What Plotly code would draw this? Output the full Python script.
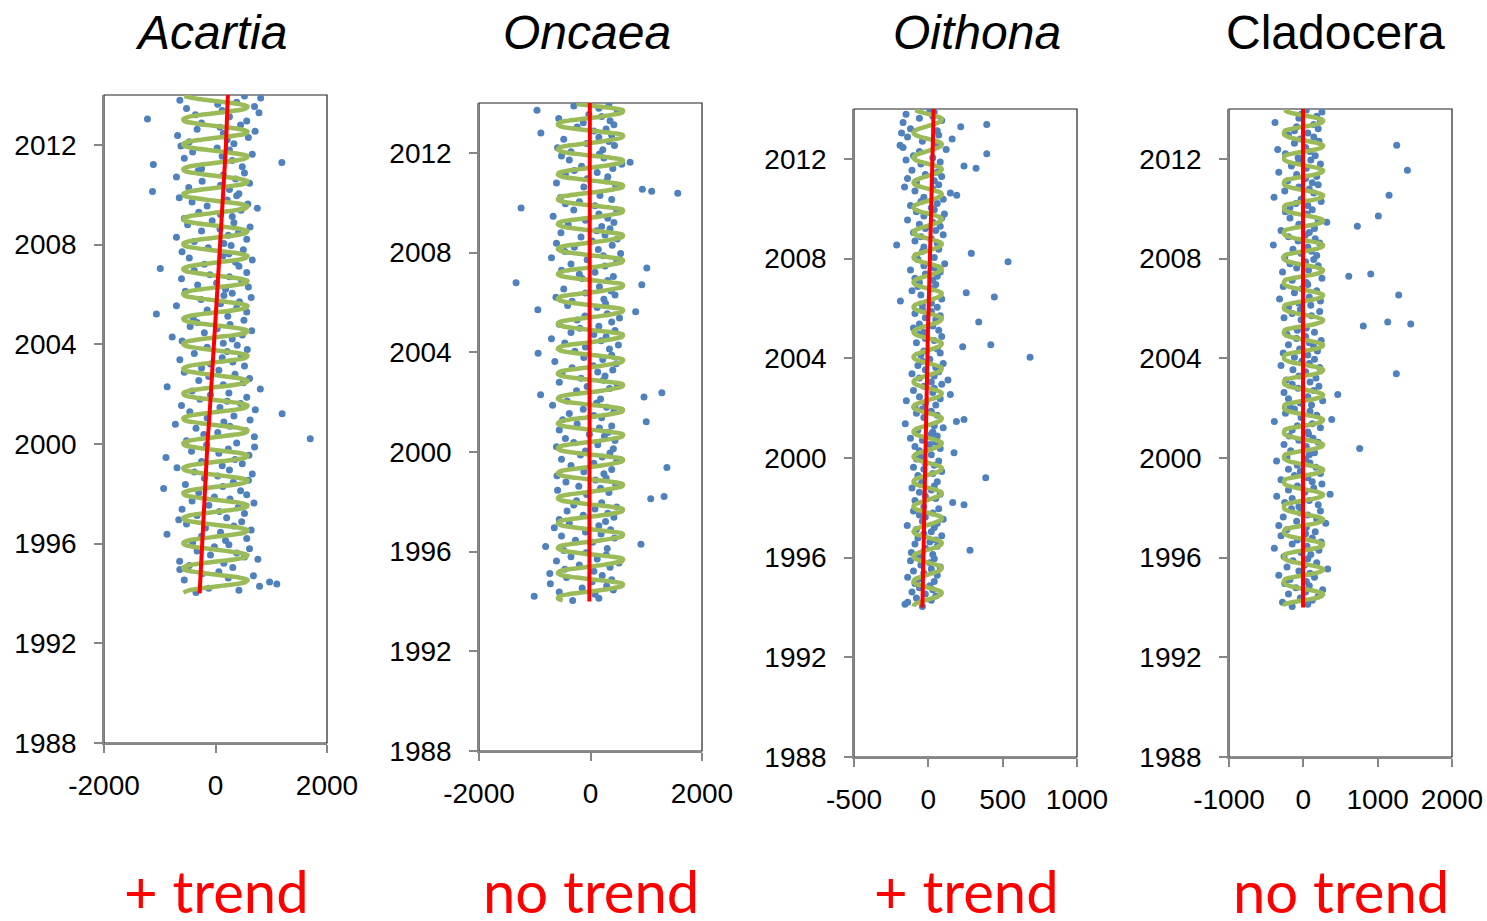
import plotly.graph_objects as go

# ---- time base -------------------------------------------------------------
years = list(range(1994, 2014))
month_offsets = [(m + 0.5) / 12 for m in range(12)]
trend_years = list(range(1994, 2015))

year_ticks = [1988, 1992, 1996, 2000, 2004, 2008, 2012]
year_range = [1988, 2014]

titles = ["Acartia", "Oncaea", "Oithona", "Cladocera"]
title_italic = [True, True, True, False]
verdicts = ["+ trend", "no trend", "+ trend", "no trend"]

# ---- Acartia ---------------------------------------------------------------
acartia_obs = [
    [-350, 420, -120, 790, 1100, 970, -560, 230, 680, -240, 60, -640],
    [310, -470, 150, -643, 760, 520, -90, 380, -330, 610, -20, 240],
    [-410, 180, 560, -250, -870, 90, 640, -180, 330, -520, 470, -660],
    [200, -330, 520, 70, -600, 410, -120, 690, -420, 260, -20, 560],
    [-300, 450, -930, 130, -540, 320, 590, -200, 40, 660, -380, 250],
    [-690, 120, 480, -250, 350, -888, 600, 60, -430, 230, 700, -160],
    [380, -520, 1700, 697, -210, 40, 540, -350, 260, -720, 150, 620],
    [-150, 330, 1195, -460, 714, 80, -610, 450, 210, -280, 560, -90],
    [240, -420, 804, -867, 140, 500, -300, 610, -120, 350, -560, 60],
    [-250, 520, -90, 310, -640, 120, 460, -380, 210, 570, -150, 390],
    [140, -598, 300, -777, 480, -200, 650, 30, -455, 260, -330, 510],
    [-400, 220, -1060, 560, -150, 380, -700, 90, 430, -260, 640, 150],
    [300, -540, 180, 590, -320, 20, 470, -610, 250, -100, 560, -380],
    [-990, 420, -200, 360, 660, -470, 130, 240, -600, 500, -130, 280],
    [150, -380, 560, -700, 230, 410, -250, 80, 620, -500, 330, -60],
    [-560, 300, 90, -300, 460, 750, -150, 580, -420, 210, -650, 380],
    [420, -1130, 250, -480, 90, 610, -240, 360, -700, 140, 520, -310],
    [-250, 480, -1115, 1190, 300, -560, 120, 660, -410, 250, 30, -620],
    [330, -470, 210, 590, -680, 140, 710, -330, 80, 450, -250, 560],
    [-1220, 250, -360, 780, 120, -520, 700, 40, 380, -640, 810, 520],
]
acartia_season = [-575, -480, -250, 60, 360, 540, 575, 450, 180, -130, -400, -560]
acartia_trend = [-285, -262, -240, -222, -195, -172, -145, -112, -82, -45, -15,
                 8, 28, 55, 78, 100, 128, 162, 188, 205, 222]
acartia_xticks = [-2000, 0, 2000]
acartia_xlabels = ["-2000", "0", "2000"]
acartia_xrange = [-2000, 2000]

# ---- Oncaea ----------------------------------------------------------------
oncaea_obs = [
    [-320, 150, -1010, 80, -560, 410, -150, 290, -720, 30, 380, -430],
    [210, -730, 60, -460, 350, -200, 510, -610, 120, -350, 280, -80],
    [-480, 300, -805, 905, 40, -270, 430, -520, 190, -90, 360, -650],
    [150, -380, 270, -560, 420, -130, 310, -420, 80, 470, -300, 200],
    [-250, 1080, 1320, -70, 330, -590, 180, -210, 450, -440, 90, 280],
    [-600, 240, -120, 380, 1370, -350, 60, 470, -520, 210, -180, 350],
    [-90, 410, -610, 130, -300, 440, -450, 250, -20, 320, -560, 160],
    [380, -240, 1000, -500, 200, 60, -380, 420, -130, 290, -680, 110],
    [-420, 180, 960, -895, 1280, -250, 340, -60, 480, -560, 230, -170],
    [260, -510, 130, 400, -330, 50, 460, -640, 220, -120, 380, -940],
    [-280, 340, -90, 500, -460, 190, -700, 280, 60, -350, 440, -190],
    [150, -560, 380, -240, 520, -100, 300, 810, -945, 120, -410, 270],
    [-330, 240, -620, 440, -90, 370, -480, 160, 920, -1335, 310, -150],
    [410, -200, 80, -520, 1010, 260, -350, 470, -60, -700, 230, 540],
    [-460, 140, -290, 390, -610, 30, 480, -170, 260, -530, 110, 350],
    [200, -400, 420, -90, 310, -670, 150, 470, -300, -1245, 80, -450],
    [-200, 380, -540, 170, 1565, 1097, 930, -120, 450, -610, 290, -60],
    [310, -450, 120, -290, 400, -160, 560, 710, -380, 240, -520, 160],
    [-350, 220, -590, 430, -70, 330, -480, 150, 380, -890, 60, 280],
    [-240, 420, -130, 350, -570, 200, -30, 480, -960, 150, -300, 330],
]
oncaea_season = [-500, -585, -560, -390, -90, 200, 420, 570, 580, 400, 80, -250]
oncaea_trend = [-20, -19, -18, -18, -17, -17, -16, -16, -15, -15, -15,
                -14, -14, -14, -13, -13, -13, -12, -12, -12, -12]
oncaea_xticks = [-2000, 0, 2000]
oncaea_xlabels = ["-2000", "0", "2000"]
oncaea_xrange = [-2000, 2000]

# ---- Oithona ---------------------------------------------------------------
oithona_obs = [
    [-40, -157, -139, 20, -80, 50, -20, -110, 30, -60, 10, -90],
    [40, -70, -139, 60, -30, -100, 20, 80, -50, 10, -120, 40],
    [-60, 30, -114, 280, -20, 60, -90, 10, 50, -70, 90, -30],
    [20, -80, 40, -142, 60, -40, 100, -20, -60, 30, -100, 70],
    [-30, 240, 164, -90, 50, -20, 80, -60, 20, -110, 40, -50],
    [60, -40, 386, -70, 30, 90, -30, -100, 40, -20, 70, -80],
    [-50, 20, 173, -60, 80, -90, 10, 50, -40, -120, 60, 20],
    [30, -70, 100, 40, -155, 189, 240, -30, 60, -80, 20, -40],
    [-90, 50, -20, -148, 80, -60, 148, 30, -100, 40, -30, 90],
    [20, 132, -60, 40, -110, 70, -20, 50, -70, 100, -40, 10],
    [684, -50, 80, -30, 60, 231, 420, -80, 40, -20, 90, -60],
    [-30, 70, -100, 30, -60, 339, 50, -20, 80, -90, 20, -40],
    [60, -40, 20, -188, 90, 444, -50, 255, -110, 30, -70, 50],
    [-60, 30, -90, 60, -20, 80, -120, 40, -30, 110, 536, -70],
    [40, -80, 289, -40, 70, -30, -213, 60, -90, 20, -50, 100],
    [-100, 50, -20, 80, -60, 30, -140, 90, -30, 108, -80, 40],
    [20, -120, 60, -50, 100, -30, 191, 148, -90, 30, -160, 70],
    [-80, 40, -140, 90, -20, 60, -110, 321, 240, -50, 80, -150],
    [30, -100, 393, -60, 120, -170, -190, 50, -40, 160, -140, 70],
    [-180, 60, -120, 218, 393, -170, 90, -60, 30, -150, 40, 10],
]
oithona_season = [-100, -92, -60, -15, 30, 68, 88, 88, 55, 5, -50, -88]
oithona_trend = [-40, -37, -34, -32, -30, -27, -24, -20, -16, -12, -8,
                 -3, 2, 7, 12, 16, 21, 25, 29, 32, 35]
oithona_xticks = [-500, 0, 500, 1000]
oithona_xlabels = ["-500", "0", "500", "1000"]
oithona_xrange = [-500, 1000]

# ---- Cladocera -------------------------------------------------------------
cladocera_obs = [
    [-150, 60, -280, 120, -40, 200, -200, 30, 260, -100, 80, -250],
    [40, -180, 150, -330, 90, -60, 328, -220, 20, 180, -140, 60],
    [-260, 100, -30, 210, -390, 50, -150, 240, -80, 120, -300, 30],
    [160, -220, 40, -330, 301, -90, 180, -270, 60, -40, 230, -160],
    [-60, 200, -250, 80, -150, -358, 360, 20, -200, 140, -80, 250],
    [120, -300, 60, -120, 230, -40, -200, 170, -80, 90, -360, 30],
    [-220, 80, 150, -170, 758, 40, -260, 200, -60, 130, -190, 70],
    [60, -150, 230, -80, 120, -390, 382, -30, 180, -240, 90, -120],
    [-180, 110, -40, 260, -200, 60, 463, -260, 140, -70, 210, -150],
    [90, -230, 170, -60, 1251, 30, -140, 220, -300, 80, -20, 150],
    [-120, 60, -270, 190, -50, 140, -200, 80, 240, -90, 30, -220],
    [150, -80, 40, 807, 1445, 1135, -30, -260, 110, -150, 220, -40],
    [-200, 100, -60, 230, -320, 80, 1283, -120, 180, -20, -270, 60],
    [40, -150, 250, 611, 907, -280, 70, -90, 200, -180, 30, 140],
    [-250, 180, -30, 110, -140, 60, -404, 220, -70, 160, -200, 30],
    [80, -300, 150, 727, -60, 315, 200, -180, 1009, 50, -240, 120],
    [-180, 60, -100, 240, -30, -394, 1153, 140, -250, 80, -60, 200],
    [120, -210, 30, 180, -90, -330, 1400, 40, -160, 230, -60, 100],
    [-70, 160, -240, 90, -345, 30, 1256, -120, 210, -40, 140, -200],
    [60, -120, 200, -90, 140, -381, 230, -60, 180, -30, 250, 40],
]
cladocera_season = [-260, -250, -150, 10, 160, 250, 265, 200, 70, -80, -200, -255]
cladocera_trend = [-4, -4, -4, -4, -4, -4, -4, -4, -4, -4, -4,
                   -4, -4, -4, -4, -4, -4, -4, -4, -4, -4]
cladocera_xticks = [-1000, 0, 1000, 2000]
cladocera_xlabels = ["-1000", "0", "1000", "2000"]
cladocera_xrange = [-1000, 2000]

# ---- styling ---------------------------------------------------------------
W, H = 1487, 921
DOT = "#4F81BD"
SEASON = "#9BBB59"
TREND = "#FF0000"
AXIS_GREY = "#868686"
TICK_FONT = dict(family="Liberation Sans, Arial, sans-serif", size=28, color="black")

# plot-area boxes in pixels: (left, right, top, bottom)
boxes = [(104, 327, 95, 743), (479, 702, 103, 751),
         (854, 1077, 109, 757), (1229, 1452, 109, 757)]
title_centers = [211, 587, 977, 1335]
verdict_centers = [216, 591, 966, 1341]

panels = [
    (acartia_obs, acartia_season, acartia_trend, acartia_xticks, acartia_xlabels, acartia_xrange),
    (oncaea_obs, oncaea_season, oncaea_trend, oncaea_xticks, oncaea_xlabels, oncaea_xrange),
    (oithona_obs, oithona_season, oithona_trend, oithona_xticks, oithona_xlabels, oithona_xrange),
    (cladocera_obs, cladocera_season, cladocera_trend, cladocera_xticks, cladocera_xlabels, cladocera_xrange),
]

fig = go.Figure()
layout = dict(
    width=W, height=H, margin=dict(l=0, r=0, t=0, b=0, pad=0, autoexpand=False),
    paper_bgcolor="white", plot_bgcolor="white", showlegend=False,
)
shapes, annotations = [], []

for i, (obs, season, trend, xt, xl, xr) in enumerate(panels):
    n = "" if i == 0 else str(i + 1)
    xa, ya = "x" + n, "y" + n
    left, right, top, bottom = boxes[i]

    t_month, v_obs, v_season = [], [], []
    for yi, yr in enumerate(years):
        for m in range(12):
            t_month.append(yr + month_offsets[m])
            v_obs.append(obs[yi][m])
            v_season.append(season[m])

    fig.add_trace(go.Scatter(
        x=v_obs, y=t_month, mode="markers", xaxis=xa, yaxis=ya,
        marker=dict(color=DOT, size=7, line=dict(width=0)),
        hoverinfo="skip"))
    fig.add_trace(go.Scatter(
        x=v_season, y=t_month, mode="lines", xaxis=xa, yaxis=ya,
        line=dict(color=SEASON, width=4.5, shape="spline", smoothing=1.0),
        hoverinfo="skip"))
    fig.add_trace(go.Scatter(
        x=trend, y=trend_years, mode="lines", xaxis=xa, yaxis=ya,
        line=dict(color=TREND, width=4),
        hoverinfo="skip"))

    layout["xaxis" + n] = dict(
        domain=[left / W, right / W], anchor=ya, range=xr, automargin=False,
        tickvals=xt, ticktext=xl, ticks="outside", ticklen=8,
        tickcolor=AXIS_GREY, tickwidth=1.5, showline=True,
        linecolor=AXIS_GREY, linewidth=1.5, showgrid=False, zeroline=False,
        tickfont=TICK_FONT, ticklabelstandoff=9, fixedrange=True)
    layout["yaxis" + n] = dict(
        domain=[1 - bottom / H, 1 - top / H], anchor=xa, range=year_range,
        automargin=False, tickvals=year_ticks,
        ticktext=[str(v) for v in year_ticks],
        ticks="outside", ticklen=8, tickcolor=AXIS_GREY, tickwidth=1.5,
        showline=True, linecolor=AXIS_GREY, linewidth=1.5, showgrid=False,
        zeroline=False, tickfont=TICK_FONT, ticklabelstandoff=12, fixedrange=True)

    # dark frame along top and right of each plot area
    shapes.append(dict(type="rect", xref=xa + " domain", yref=ya + " domain",
                       x0=0, x1=1, y0=0, y1=1, layer="below",
                       line=dict(color="#222222", width=1.2)))

    name = titles[i]
    annotations.append(dict(
        text=f"<i>{name}</i>" if title_italic[i] else name,
        x=title_centers[i] / W, y=1 - 32 / H, xref="paper", yref="paper",
        xanchor="center", yanchor="middle", showarrow=False,
        font=dict(family="Liberation Sans, Arial, sans-serif", size=48, color="black")))
    annotations.append(dict(
        text=verdicts[i], x=verdict_centers[i] / W, y=1 - 890 / H,
        xref="paper", yref="paper", xanchor="center", yanchor="middle",
        showarrow=False,
        font=dict(family="Lato, sans-serif", size=58, color="#FF0000")))

layout["shapes"] = shapes
layout["annotations"] = annotations
fig.update_layout(**layout)

fig.write_html("out.html")
